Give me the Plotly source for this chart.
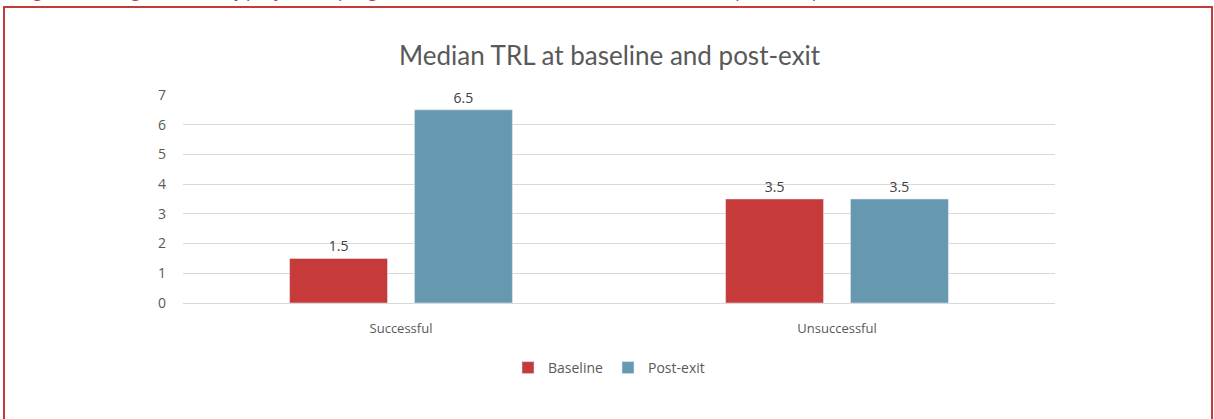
import plotly.graph_objects as go

categories = ["Successful", "Unsuccessful"]
baseline = [1.5, 3.5]
post_exit = [6.5, 3.5]
y_ticks = [0, 1, 2, 3, 4, 5, 6, 7]

title_text = "Median TRL at baseline and post-exit"
caption_text = "<i>Figure 8: Design median of projects in progression, median, best case and baseline to post-exit period</i>"

RED = "#C63A3A"
BLUE = "#6699B0"
GRAY = "#595959"
FONT = "'Open Sans', sans-serif"
TFONT = "Lato, 'Open Sans', sans-serif"

fig = go.Figure()
fig.add_trace(go.Bar(x=categories, y=baseline, name="Baseline", marker_color=RED,
                     text=[f"{v}" for v in baseline], textposition="outside",
                     textfont=dict(size=14, color="#404040", family=FONT), cliponaxis=False))
fig.add_trace(go.Bar(x=categories, y=post_exit, name="Post-exit", marker_color=BLUE,
                     text=[f"{v}" for v in post_exit], textposition="outside",
                     textfont=dict(size=14, color="#404040", family=FONT), cliponaxis=False))

W, H = 1214, 419
L, R, T, B = 183, 1055, 95, 303
pw, ph = R - L, B - T

def px(x):
    return (x - L) / pw

def py(y):
    return (B - y) / ph

fig.update_layout(
    width=W, height=H,
    margin=dict(l=L, r=W - R, t=T, b=H - B),
    paper_bgcolor="white", plot_bgcolor="white",
    barmode="group", bargap=0.427, bargroupgap=0.216,
    font=dict(family=FONT, color=GRAY),
    showlegend=True,
    legend=dict(orientation="h", x=0.5 - 10 / pw, xanchor="center", y=py(368), yanchor="middle",
                font=dict(size=14, color=GRAY, family=FONT), itemwidth=30, traceorder="normal"),
    xaxis=dict(showgrid=False, showline=False, ticks="", ticklabelstandoff=16,
               tickfont=dict(size=13, color=GRAY, family=FONT)),
    yaxis=dict(range=[0, 7], tickvals=y_ticks, showgrid=True, gridcolor="#D9D9D9", gridwidth=1,
               zeroline=True, zerolinecolor="#D9D9D9", zerolinewidth=1,
               showline=False, ticks="", ticklabelstandoff=16,
               tickfont=dict(size=14, color=GRAY, family=FONT)),
    annotations=[
        dict(text=title_text, x=px(610), y=py(55), xref="paper", yref="paper",
             xanchor="center", yanchor="middle", showarrow=False,
             font=dict(size=26, color=GRAY, family=TFONT)),
        dict(text=caption_text, x=px(18), y=py(5), xref="paper", yref="paper",
             xanchor="left", yanchor="bottom", showarrow=False,
             font=dict(size=19, color=RED, family=FONT)),
    ],
    shapes=[
        dict(type="rect", xref="paper", yref="paper",
             x0=px(4), x1=px(1212), y0=py(430), y1=py(7),
             line=dict(color=RED, width=2), fillcolor="rgba(0,0,0,0)", layer="below"),
    ],
)

fig.write_html("out.html")
